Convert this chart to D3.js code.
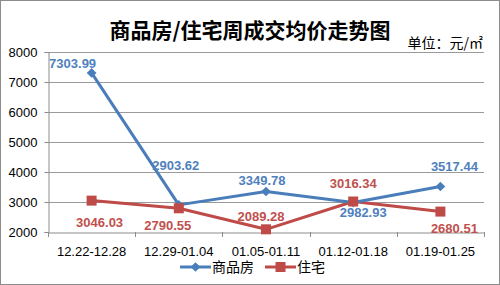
<!DOCTYPE html>
<html><head><meta charset="utf-8">
<script src="https://cdn.jsdelivr.net/npm/d3@7"></script>
<style>body{margin:0;background:#fff}svg{display:block}</style>
</head><body>
<svg id="c" width="500" height="285"></svg>
<script>
const categories = ["12.22-12.28","12.29-01.04","01.05-01.11","01.12-01.18","01.19-01.25"];
const seriesNames = ["商品房","住宅"];
const commercial = [7303.99, 2903.62, 3349.78, 2982.93, 3517.44];
const residential = [3046.03, 2790.55, 2089.28, 3016.34, 2680.51];
const yTicks = [2000,3000,4000,5000,6000,7000,8000];
// label offsets (dx, dy) relative to the point
const commercialLabelOffsets = [[-19,-10],[-3,-40],[-4,-12],[10,9],[14,-20]];
const residentialLabelOffsets = [[8,21],[-11,17],[-5,-13],[0,-19],[14,16]];

const svg = d3.select("#c");
const W=500,H=285;
svg.append("rect").attr("x",0.5).attr("y",0.5).attr("width",W-1).attr("height",H-1)
  .attr("fill","#fff").attr("stroke","#8c8c8c");

const L=48,R=484,T=52,B=232;
const x = d3.scaleBand().domain(categories).range([L,R]);
const y = d3.scaleLinear().domain([2000,8000]).range([B,T]);

// gridlines
svg.append("g").selectAll("line").data(yTicks.filter(d=>d>2000)).join("line")
  .attr("x1",L).attr("x2",R).attr("y1",d=>y(d)+0.5).attr("y2",d=>y(d)+0.5)
  .attr("stroke","#9a9a9a").attr("stroke-width",1);

// y axis
const ya = svg.append("g").attr("transform",`translate(${L+0.5},0)`)
  .call(d3.axisLeft(y).tickValues(yTicks).tickSize(4).tickPadding(7).tickFormat(d3.format("d")));
ya.select(".domain").attr("stroke","#8c8c8c");
ya.selectAll(".tick line").attr("stroke","#8c8c8c");
ya.selectAll("text").attr("font-family","Liberation Sans, Arial, sans-serif").attr("font-size",13).attr("fill","#000");

// x axis
const xa = svg.append("g").attr("transform",`translate(0,${B+0.5})`)
  .call(d3.axisBottom(x).tickSize(0).tickPadding(14));
xa.select(".domain").attr("stroke","#8c8c8c");
xa.selectAll("text").attr("font-family","Liberation Sans, Arial, sans-serif").attr("font-size",13).attr("fill","#000");
const bounds = categories.map(c=>x(c)).concat([R]);
svg.append("g").selectAll("line").data(bounds).join("line")
  .attr("x1",d=>Math.round(d)+0.5).attr("x2",d=>Math.round(d)+0.5).attr("y1",B).attr("y2",B+5)
  .attr("stroke","#8c8c8c");

const cx = c=>x(c)+x.bandwidth()/2;
const line = d3.line().x((d,i)=>cx(categories[i])).y(d=>y(d));
const blue="#4A7EBB", red="#BE4B48";
const blueTxt="#4F81BD", redTxt="#C0504D";

// title
svg.append("text").attr("x",250).attr("y",38).attr("text-anchor","middle")
  .attr("font-family","Noto Sans CJK SC, sans-serif").attr("font-weight","bold").attr("font-size",21)
  .attr("fill","#000").text("商品房/住宅周成交均价走势图");
svg.append("text").attr("x",483).attr("y",48).attr("text-anchor","end")
  .attr("font-family","Noto Sans CJK SC, sans-serif").attr("font-size",14)
  .attr("fill","#000").text("单位：元/㎡");

// lines
svg.append("path").datum(residential).attr("d",line).attr("fill","none").attr("stroke",red).attr("stroke-width",3).attr("stroke-linejoin","round");
svg.append("path").datum(commercial).attr("d",line).attr("fill","none").attr("stroke",blue).attr("stroke-width",3).attr("stroke-linejoin","round");

const diamond = d3.symbol().type(d3.symbolDiamond2).size(60);
svg.append("g").selectAll("path").data(commercial).join("path")
  .attr("d",diamond).attr("transform",(d,i)=>`translate(${cx(categories[i])},${y(d)})`).attr("fill",blue);
svg.append("g").selectAll("rect").data(residential).join("rect")
  .attr("x",(d,i)=>cx(categories[i])-5).attr("y",d=>y(d)-5).attr("width",10).attr("height",10)
  .attr("fill",red);

// labels
const lab = (data,offs,col)=>svg.append("g").selectAll("text").data(data).join("text")
  .attr("x",(d,i)=>cx(categories[i])+offs[i][0]).attr("y",(d,i)=>y(d)+offs[i][1]+5)
  .attr("text-anchor","middle").attr("font-family","Liberation Sans, Arial, sans-serif")
  .attr("font-size",13).attr("font-weight","bold").attr("fill",col).text(d=>d.toFixed(2));
lab(commercial,commercialLabelOffsets,blueTxt);
lab(residential,residentialLabelOffsets,redTxt);

// legend
const lg = svg.append("g").attr("font-family","Noto Sans CJK SC, sans-serif").attr("font-size",14);
lg.append("line").attr("x1",180).attr("x2",211).attr("y1",267).attr("y2",267).attr("stroke",blue).attr("stroke-width",3);
lg.append("path").attr("d",diamond).attr("transform","translate(195.5,267)").attr("fill",blue);
lg.append("text").attr("x",212).attr("y",272).text(seriesNames[0]);
lg.append("line").attr("x1",265).attr("x2",296).attr("y1",267).attr("y2",267).attr("stroke",red).attr("stroke-width",3);
lg.append("rect").attr("x",275.5).attr("y",262).attr("width",10).attr("height",10).attr("fill",red);
lg.append("text").attr("x",297).attr("y",272).text(seriesNames[1]);
</script>
</body></html>
